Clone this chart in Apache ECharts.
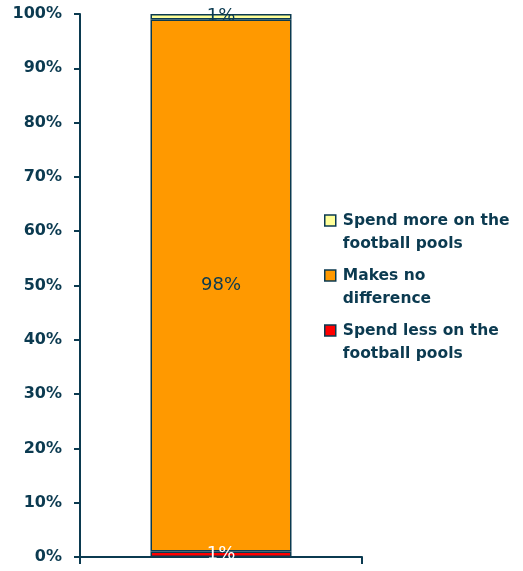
<!DOCTYPE html>
<html>
<head>
<meta charset="utf-8">
<script src="https://cdn.jsdelivr.net/npm/echarts@6/dist/echarts.min.js"></script>
<style>
  html, body { margin: 0; padding: 0; background: #fff; }
  #chart { width: 523px; height: 571px; }
</style>
</head>
<body>
<div id="chart"></div>
<script>
// Share of respondents by effect on football pools spending (stacked, %)
const categories = [''];
const spendLess = [1];
const noDifference = [98];
const spendMore = [1];
const yTicks = [0, 10, 20, 30, 40, 50, 60, 70, 80, 90, 100];

const navy = '#0b3a50';
const font = 'DejaVu Sans';

function seg(name, data, color, labelColor) {
  return {
    name: name,
    type: 'bar',
    stack: 'total',
    data: data,
    barWidth: '50%',
    itemStyle: { color: color, borderColor: navy, borderWidth: 1.5 },
    label: {
      show: true,
      position: 'inside',
      formatter: '{c}%',
      color: labelColor,
      fontFamily: font,
      fontSize: 18
    }
  };
}

const chart = echarts.init(document.getElementById('chart'));
chart.setOption({
  animation: false,
  grid: { left: 80, right: 161, top: 14, bottom: 14 },
  xAxis: {
    type: 'category',
    data: categories,
    axisLine: { lineStyle: { color: navy, width: 2 } },
    axisTick: { show: true, length: 7, lineStyle: { color: navy, width: 2 } },
    axisLabel: { show: false }
  },
  yAxis: {
    type: 'value',
    min: yTicks[0],
    max: yTicks[yTicks.length - 1],
    interval: 10,
    axisLine: { show: true, lineStyle: { color: navy, width: 2 } },
    axisTick: { show: true, length: 6, lineStyle: { color: navy, width: 2 } },
    splitLine: { show: false },
    axisLabel: {
      formatter: '{value}%',
      color: navy,
      fontFamily: font,
      fontWeight: 'bold',
      fontSize: 16,
      margin: 18
    }
  },
  legend: {
    orient: 'vertical',
    left: 324,
    top: 186,
    padding: 0,
    icon: 'rect',
    itemWidth: 11,
    itemHeight: 11,
    itemGap: -14,
    data: ['Spend more on the\nfootball pools', 'Makes no\ndifference', 'Spend less on the\nfootball pools'],
    // leading blank line keeps the marker level with the first text line
    formatter: function (name) { return '\n' + name; },
    itemStyle: { borderColor: navy, borderWidth: 1.5 },
    textStyle: {
      color: navy,
      fontFamily: font,
      fontWeight: 'bold',
      fontSize: 15.5,
      lineHeight: 23,
      padding: [0, 0, 0, 2]
    }
  },
  series: [
    seg('Spend less on the\nfootball pools', spendLess, '#ff0000', '#ffffff'),
    seg('Makes no\ndifference', noDifference, '#ff9900', navy),
    seg('Spend more on the\nfootball pools', spendMore, '#ffff99', navy)
  ]
});
</script>
</body>
</html>
